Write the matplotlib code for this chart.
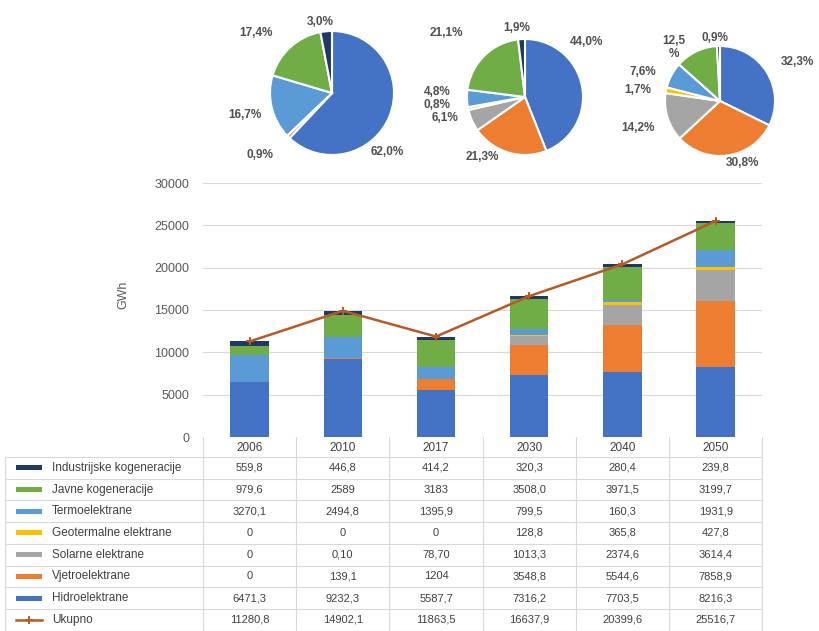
import matplotlib
matplotlib.use("Agg")
import matplotlib.pyplot as plt
from matplotlib.patches import Rectangle
from matplotlib.lines import Line2D

plt.rcParams['font.family'] = ['Liberation Sans', 'DejaVu Sans']

# ---- data -------------------------------------------------------------
years = ["2006", "2010", "2017", "2030", "2040", "2050"]

series_names = ["Industrijske kogeneracije", "Javne kogeneracije", "Termoelektrane",
                "Geotermalne elektrane", "Solarne elektrane", "Vjetroelektrane",
                "Hidroelektrane"]

industrijske = ["559,8", "446,8", "414,2", "320,3", "280,4", "239,8"]
javne = ["979,6", "2589", "3183", "3508,0", "3971,5", "3199,7"]
termo = ["3270,1", "2494,8", "1395,9", "799,5", "160,3", "1931,9"]
geotermalne = ["0", "0", "0", "128,8", "365,8", "427,8"]
solarne = ["0", "0,10", "78,70", "1013,3", "2374,6", "3614,4"]
vjetro = ["0", "139,1", "1204", "3548,8", "5544,6", "7858,9"]
hidro = ["6471,3", "9232,3", "5587,7", "7316,2", "7703,5", "8216,3"]
ukupno = ["11280,8", "14902,1", "11863,5", "16637,9", "20399,6", "25516,7"]

# shares (%) for the three pies, order: hidro, vjetro, solarne, geo, termo, javne, industrijske
pie_2010 = [62.0, 0.9, 0.0, 0.0, 16.7, 17.4, 3.0]
pie_2030 = [44.0, 21.3, 6.1, 0.8, 4.8, 21.1, 1.9]
pie_2050 = [32.3, 30.8, 14.2, 1.7, 7.6, 12.5, 0.9]

# ---- styling ----------------------------------------------------------
c_ind = "#203864"
c_jav = "#70AD47"
c_ter = "#5B9BD5"
c_geo = "#FFC000"
c_sol = "#A5A5A5"
c_vje = "#ED7D31"
c_hid = "#4472C4"
c_tot = "#B85A26"
txt = "#404040"
grid_c = "#D9D9D9"

rows = [
    (series_names[0], industrijske, c_ind),
    (series_names[1], javne, c_jav),
    (series_names[2], termo, c_ter),
    (series_names[3], geotermalne, c_geo),
    (series_names[4], solarne, c_sol),
    (series_names[5], vjetro, c_vje),
    (series_names[6], hidro, c_hid),
]


def num(s):
    return float(s.replace(",", "."))


W, H = 819, 631
fig = plt.figure(figsize=(W / 100, H / 100), dpi=100)


def px_rect(left, top, width, height):
    return [left / W, 1 - (top + height) / H, width / W, height / H]


# ---- stacked bars with total line ------------------------------------
col_left, col_w = 203.0, 93.2
plot_top, plot_bottom = 183.0, 437.0
ax = fig.add_axes(px_rect(col_left, plot_top, col_w * len(years), plot_bottom - plot_top))
x = list(range(len(years)))
bottom = [0.0] * len(years)
for name, vals, color in reversed(rows):
    v = [num(s) for s in vals]
    ax.bar(x, v, 0.41, bottom=bottom, color=color, zorder=2, linewidth=0)
    bottom = [b + a for b, a in zip(bottom, v)]
totals = [num(s) for s in ukupno]
ax.plot(x, totals, color=c_tot, lw=1.8, marker="+", ms=6, mew=1.4, zorder=3)
ax.set_xlim(-0.5, len(years) - 0.5)
ax.set_ylim(0, 30000)
ax.set_yticks(range(0, 30001, 5000))
ax.set_xticks([])
ax.yaxis.grid(True, color=grid_c, lw=0.8, zorder=0)
for s in ax.spines.values():
    s.set_visible(False)
ax.tick_params(axis="y", length=0, labelsize=9, labelcolor="#595959", pad=10)
fig.text(123 / W, 1 - 295 / H, "GWh", rotation=90, ha="center", va="center",
         fontsize=9, color="#595959")

# ---- data table underneath -------------------------------------------
tab = fig.add_axes([0, 0, 1, 1], zorder=-1)
tab.set_xlim(0, W)
tab.set_ylim(H, 0)
tab.axis("off")

head_top, head_bot = plot_bottom, 457.0
row_h = 21.7
n_rows = len(rows) + 1
table_bot = head_bot + row_h * n_rows
right = col_left + col_w * len(years)

for k in range(len(years) + 1):
    xv = col_left + col_w * k
    tab.plot([xv, xv], [head_top, table_bot], color=grid_c, lw=0.8)
for i in range(n_rows + 1):
    yh = head_bot + row_h * i
    tab.plot([5, right], [yh, yh], color=grid_c, lw=0.8)
tab.plot([5, 5], [head_bot, table_bot], color=grid_c, lw=0.8)

for j, yr in enumerate(years):
    tab.text(col_left + col_w * (j + 0.5), (head_top + head_bot) / 2 + 1, yr,
             ha="center", va="center", fontsize=8.5, color=txt)

table_rows = rows + [("Ukupno", ukupno, c_tot)]
for i, (name, vals, color) in enumerate(table_rows):
    yc = head_bot + row_h * (i + 0.5)
    if name == "Ukupno":
        tab.add_line(Line2D([16, 42], [yc, yc], color=color, lw=1.8))
        tab.add_line(Line2D([29], [yc], color=color, marker="+", ms=6, mew=1.4))
    else:
        tab.add_patch(Rectangle((16, yc - 2.5), 26, 5, color=color, lw=0))
    tab.text(52, yc, name, ha="left", va="center", fontsize=8.5, color=txt)
    for j, s in enumerate(vals):
        tab.text(col_left + col_w * (j + 0.5), yc, s, ha="center", va="center",
                 fontsize=8, color=txt)

# ---- pies ----------------------------------------------------------------
pie_colors = [c_hid, c_vje, c_sol, c_geo, c_ter, c_jav, c_ind]


def pct_text(p):
    return ("%.1f" % p).replace(".", ",") + "%"


# (centre x, centre y, radius) in pixels and label offsets in radius units
pies = [
    (pie_2010, (332, 93, 62), {0: (0.89, -0.95), 1: (-1.16, -1.0), 4: (-1.4, -0.35),
                                5: (-1.23, 0.97), 6: (-0.19, 1.15)}, ()),
    (pie_2030, (525, 97, 58), {0: (1.07, 0.95), 1: (-0.74, -1.03), 2: (-1.38, -0.36),
                                3: (-1.52, -0.14), 4: (-1.52, 0.08), 5: (-1.35, 1.10),
                                6: (-0.14, 1.19)}, ()),
    (pie_2050, (720, 101, 55), {0: (1.40, 0.71), 1: (0.40, -1.13), 2: (-1.50, -0.49),
                                3: (-1.50, 0.20), 4: (-1.40, 0.53), 5: (-0.84, 0.98),
                                6: (-0.09, 1.15)}, (5,)),
]

for shares, (cx, cy, r), offsets, wrapped in pies:
    pax = fig.add_axes(px_rect(cx - r, cy - r, 2 * r, 2 * r))
    pax.pie(shares, colors=pie_colors, startangle=90, counterclock=False,
            wedgeprops=dict(edgecolor="white", linewidth=1.5))
    pax.set_xlim(-1, 1)
    pax.set_ylim(-1, 1)
    pax.set_aspect("equal")
    for idx, (dx, dy) in offsets.items():
        label = pct_text(shares[idx])
        if idx in wrapped:
            label = label[:-1] + "\n%"
        pax.text(dx, dy, label, ha="center", va="center", fontsize=8.5,
                 fontweight="bold", color="#505050", linespacing=1.1)

fig.savefig("out.png", dpi=100)
